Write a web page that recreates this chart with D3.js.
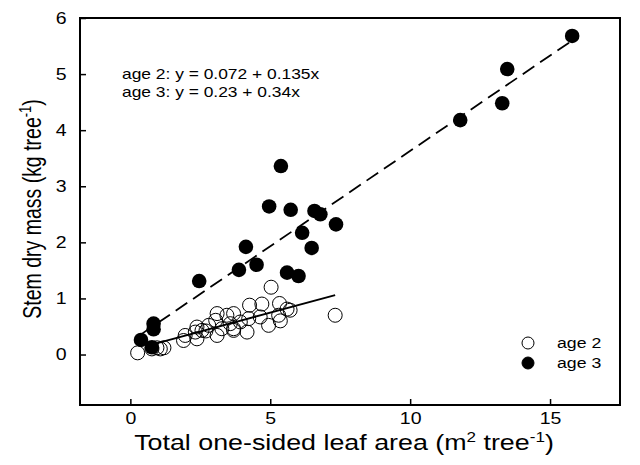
<!DOCTYPE html>
<html>
<head>
<meta charset="utf-8">
<script src="https://cdn.jsdelivr.net/npm/d3@7"></script>
<style>
  body { margin: 0; background: #fff; }
  text { font-family: "Liberation Sans", Arial, sans-serif; fill: #000; }
</style>
</head>
<body>
<script>
// age 2 trees: [leaf area, stem mass]
var age2 = [
  [0.26, 0.03], [0.77, 0.10], [0.95, 0.12], [1.07, 0.10], [1.2, 0.12],
  [1.9, 0.25], [1.96, 0.34], [2.32, 0.40], [2.38, 0.28], [2.38, 0.49],
  [2.56, 0.43], [2.7, 0.42], [2.8, 0.52], [3.05, 0.61], [3.1, 0.73],
  [3.1, 0.34], [3.27, 0.46], [3.45, 0.70], [3.57, 0.55], [3.69, 0.73],
  [3.69, 0.46], [3.69, 0.43], [3.93, 0.58], [4.17, 0.40], [4.23, 0.64],
  [4.26, 0.88], [4.64, 0.67], [4.70, 0.90], [4.94, 0.52], [5.03, 1.20],
  [5.30, 0.70], [5.33, 0.91], [5.36, 0.60], [5.60, 0.81], [5.71, 0.79],
  [7.32, 0.70]
];
// age 3 trees
var age3 = [
  [0.38, 0.26], [0.77, 0.13], [0.83, 0.55], [0.83, 0.45], [2.46, 1.31],
  [3.88, 1.51], [4.13, 1.92], [4.51, 1.60], [4.96, 2.64], [5.38, 3.36],
  [5.60, 1.46], [5.73, 2.58], [6.01, 1.40], [6.14, 2.17], [6.48, 1.90],
  [6.58, 2.56], [6.79, 2.50], [7.35, 2.32], [11.79, 4.18], [13.29, 4.48],
  [13.47, 5.09], [15.79, 5.68]
];
// regression fits: intercept, slope, x range
var fit2 = { a: 0.072, b: 0.135, x0: 0.9, x1: 7.32 };
var fit3 = { a: 0.23, b: 0.34, x0: 0.38, x1: 15.9 };
var xTicks = [0, 5, 10, 15];
var yTicks = [0, 1, 2, 3, 4, 5, 6];

var width = 640, height = 465;
var sx = 1.22; // the original text is a bit wide
var svg = d3.select("body").append("svg")
    .attr("width", width)
    .attr("height", height);

var x = d3.scaleLinear().domain([-1.8, 17.5]).range([80, 620]);
var y = d3.scaleLinear().domain([-0.9, 6]).range([405, 18]);

// frame
svg.append("rect")
    .attr("x", 80).attr("y", 18)
    .attr("width", 540).attr("height", 387)
    .attr("fill", "none").attr("stroke", "#000").attr("stroke-width", 2);

var xAxis = svg.append("g")
    .attr("transform", "translate(0,405)")
    .call(d3.axisBottom(x).tickValues(xTicks).tickFormat(d3.format("d")).tickSize(-6).tickPadding(8));
var yAxis = svg.append("g")
    .attr("transform", "translate(80,0)")
    .call(d3.axisLeft(y).tickValues(yTicks).tickFormat(d3.format("d")).tickSize(-6).tickPadding(11));
[xAxis, yAxis].forEach(function(g) {
  g.select(".domain").remove();
  g.selectAll(".tick line").attr("stroke", "#000").attr("stroke-width", 1.5);
  g.selectAll(".tick text").style("font-size", "16px").attr("font-family", null)
      .attr("transform", "scale(" + sx + ",1)");
});

// regression lines
function fitLine(f) {
  return d3.line()([[x(f.x0), y(f.a + f.b * f.x0)], [x(f.x1), y(f.a + f.b * f.x1)]]);
}
svg.append("path").attr("d", fitLine(fit2))
    .attr("stroke", "#000").attr("stroke-width", 1.8).attr("fill", "none");
svg.append("path").attr("d", fitLine(fit3))
    .attr("stroke", "#000").attr("stroke-width", 1.8).attr("fill", "none")
    .attr("stroke-dasharray", "14,7");

// points
svg.append("g").selectAll("circle")
  .data(age2)
  .enter().append("circle")
    .attr("cx", function(d) { return x(d[0]); })
    .attr("cy", function(d) { return y(d[1]); })
    .attr("r", 7)
    .attr("fill", "none")
    .attr("stroke", "#000")
    .attr("stroke-width", 1);
svg.append("g").selectAll("circle")
  .data(age3)
  .enter().append("circle")
    .attr("cx", function(d) { return x(d[0]); })
    .attr("cy", function(d) { return y(d[1]); })
    .attr("r", 7.3)
    .attr("fill", "#000");

function label(px, py, size, str, k) {
  return svg.append("text")
      .attr("transform", "translate(" + px + "," + py + ") scale(" + (k || sx) + ",1)")
      .style("font-size", size + "px")
      .text(str);
}

// equations
label(122, 79, 15, "age 2: y = 0.072 + 0.135x", 1.16);
label(122, 97, 15, "age 3: y = 0.23 + 0.34x", 1.16);

// legend
var legend = [["age 2", "none"], ["age 3", "#000"]];
legend.forEach(function(l, i) {
  svg.append("circle").attr("cx", 528).attr("cy", 343 + i * 20).attr("r", 6)
      .attr("fill", l[1]).attr("stroke", "#000");
  label(557, 348 + i * 20, 14.5, l[0]);
});

// axis titles
var xt = svg.append("text")
    .attr("transform", "translate(344,450) scale(" + sx + ",1)")
    .attr("text-anchor", "middle").style("font-size", "22px");
xt.append("tspan").text("Total one-sided leaf area (m");
xt.append("tspan").attr("dy", -8).style("font-size", "14px").text("2");
xt.append("tspan").attr("dy", 8).text(" tree");
xt.append("tspan").attr("dy", -8).style("font-size", "14px").text("-1");
xt.append("tspan").attr("dy", 8).text(")");

var yt = svg.append("text")
    .attr("transform", "translate(41,209) scale(1.3,1) rotate(-90)")
    .attr("text-anchor", "middle").style("font-size", "19.5px");
yt.append("tspan").text("Stem dry mass (kg tree");
yt.append("tspan").attr("dy", -8).style("font-size", "13px").text("-1");
yt.append("tspan").attr("dy", 8).text(")");
</script>
</body>
</html>
